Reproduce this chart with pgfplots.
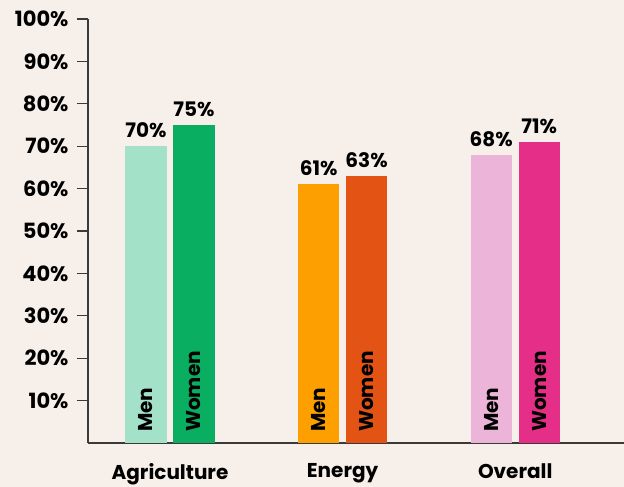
\documentclass[border=0pt]{standalone}
\usepackage{fontspec}
\setmainfont{Poppins}
\usepackage{pgfplots}
\pgfplotsset{compat=1.18}
\definecolor{bgc}{HTML}{F7F0EA}
\definecolor{axc}{HTML}{3A3A3A}
\definecolor{agm}{HTML}{A3E1C8}
\definecolor{agw}{HTML}{0AAE60}
\definecolor{enm}{HTML}{FE9F00}
\definecolor{enw}{HTML}{E25314}
\definecolor{ovm}{HTML}{ECB4D8}
\definecolor{ovw}{HTML}{E52E87}
\newcommand\lblfont{\bfseries\fontsize{20}{24}\selectfont}
\begin{document}
\begin{tikzpicture}
\path[use as bounding box, fill=bgc] (-88pt,-44pt) rectangle (536pt,443pt);
\begin{axis}[
  at={(0,0)}, anchor=south west,
  scale only axis, width=536pt, height=424pt,
  xmin=-0.475, xmax=2.63, ymin=0, ymax=100,
  axis x line=bottom, axis y line=left,
  axis line style={-, draw=axc, line width=1.2pt},
  ytick={10,20,...,100},
  yticklabels={10\%,20\%,30\%,40\%,50\%,60\%,70\%,80\%,90\%,100\%},
  tick align=outside, major tick length=11pt,
  y tick style={draw=axc, line width=1.2pt},
  xtick={0,1,2}, xticklabels={Agriculture,Energy,Overall},
  x tick style={draw=none},
  xticklabel style={yshift=-6pt, font=\lblfont},
  yticklabel style={xshift=-5pt, font=\bfseries\fontsize{21}{24}\selectfont},
  ybar, bar width=0.238,
  point meta=explicit symbolic,
  nodes near coords={\pgfplotspointmeta},
  every node near coord/.append style={anchor=south, inner sep=0pt, yshift=8pt, font=\lblfont},
  clip=false,
]
\addplot[fill=agm, draw=none, bar shift=-0.139] coordinates {(0,70) [70\%]};
\addplot[fill=agw, draw=none, bar shift=0.139] coordinates {(0,75) [75\%]};
\addplot[fill=enm, draw=none, bar shift=-0.139] coordinates {(1,61) [61\%]};
\addplot[fill=enw, draw=none, bar shift=0.139] coordinates {(1,63) [63\%]};
\addplot[fill=ovm, draw=none, bar shift=-0.139] coordinates {(2,68) [68\%]};
\addplot[fill=ovw, draw=none, bar shift=0.139] coordinates {(2,71) [71\%]};
\foreach \xx in {0,1,2} {
  \edef\temp{\noexpand\node[rotate=90, anchor=west, inner sep=0pt, font=\noexpand\lblfont] at ([yshift=11pt]axis cs:\xx-0.139,0) {Men};
  \noexpand\node[rotate=90, anchor=west, inner sep=0pt, font=\noexpand\lblfont] at ([yshift=11pt]axis cs:\xx+0.139,0) {Women};}
  \temp
}
\end{axis}
\end{tikzpicture}
\end{document}
